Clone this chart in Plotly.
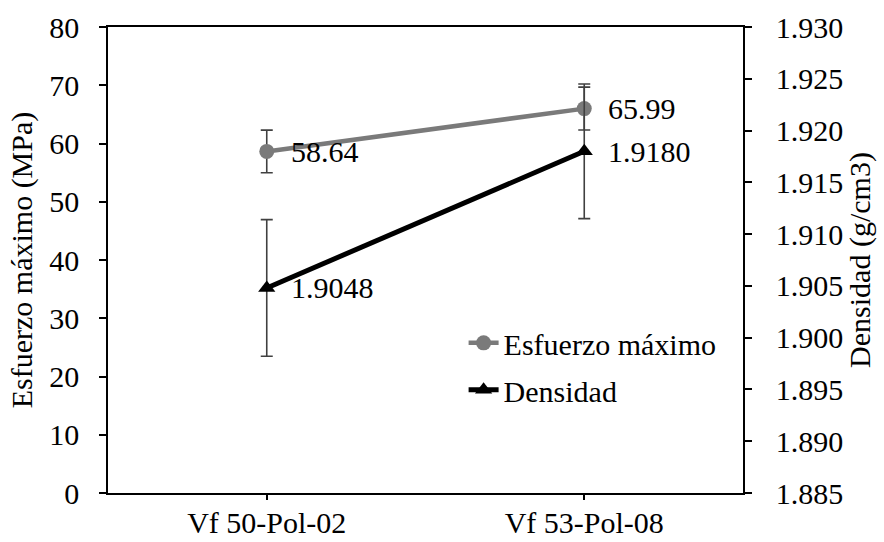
import plotly.graph_objects as go

# Samples and measured values
categorias = ["Vf 50-Pol-02", "Vf 53-Pol-08"]
esfuerzo = [58.64, 65.99]          # MPa
esfuerzo_err = [3.65, 3.68]
densidad = [1.9048, 1.9180]        # g/cm3
densidad_err = [0.0066, 0.0065]

FONT = "Liberation Serif"
FS = 30

fig = go.Figure()

fig.add_trace(go.Scatter(
    x=categorias, y=esfuerzo, name="Esfuerzo máximo",
    mode="lines+markers", legendgroup="a",
    line=dict(color="#7a7a7a", width=4.5),
    marker=dict(symbol="circle", size=15, color="#7a7a7a"),
    error_y=dict(type="data", array=esfuerzo_err, visible=True,
                 color="#404040", thickness=1.6, width=6),
))

fig.add_trace(go.Scatter(
    x=categorias, y=densidad, name="Densidad", yaxis="y2",
    mode="lines+markers", legendgroup="b",
    line=dict(color="#000000", width=5),
    marker=dict(symbol="triangle-up", size=15, color="#000000"),
    error_y=dict(type="data", array=densidad_err, visible=True,
                 color="#404040", thickness=1.6, width=6),
))

# Value labels to the right of each point
for c, v in zip(categorias, esfuerzo):
    fig.add_annotation(x=c, y=v, yref="y", text=f"{v:.2f}", showarrow=False,
                       xanchor="left", yanchor="middle", xshift=22,
                       font=dict(family=FONT, size=FS, color="#000"))
for c, v in zip(categorias, densidad):
    fig.add_annotation(x=c, y=v, yref="y2", text=f"{v:.4f}", showarrow=False,
                       xanchor="left", yanchor="middle", xshift=22,
                       font=dict(family=FONT, size=FS, color="#000"))

axis_common = dict(showline=True, linecolor="#000", linewidth=1.5,
                   ticks="outside", ticklen=7, tickcolor="#000", tickwidth=1.5,
                   showgrid=False, zeroline=False, automargin=False,
                   tickfont=dict(family=FONT, size=FS, color="#000"))

fig.update_layout(
    width=884, height=542,
    margin=dict(l=108, r=141, t=27, b=49),
    paper_bgcolor="white", plot_bgcolor="white",
    font=dict(family=FONT, size=FS, color="#000"),
    xaxis=dict(**{**axis_common, "ticklen": 5}, range=[-0.5, 1.5], mirror=True,
               ticklabelstandoff=-3),
    yaxis=dict(**axis_common, range=[0, 80], dtick=10, ticklabelstandoff=14,
               title=dict(text="Esfuerzo máximo (MPa)", standoff=8,
                          font=dict(family=FONT, size=FS, color="#000"))),
    yaxis2=dict(**axis_common, range=[1.885, 1.930], dtick=0.005,
                tickformat=".3f", overlaying="y", side="right",
                ticklabelstandoff=18,
                title=dict(text="Densidad (g/cm3)", standoff=6,
                           font=dict(family=FONT, size=FS, color="#000"))),
    legend=dict(x=0.56, y=0.378, xanchor="left", yanchor="top",
                bgcolor="rgba(0,0,0,0)", traceorder="grouped",
                tracegroupgap=5, font=dict(family=FONT, size=FS, color="#000")),
    showlegend=True,
)

fig.write_html("out.html")
